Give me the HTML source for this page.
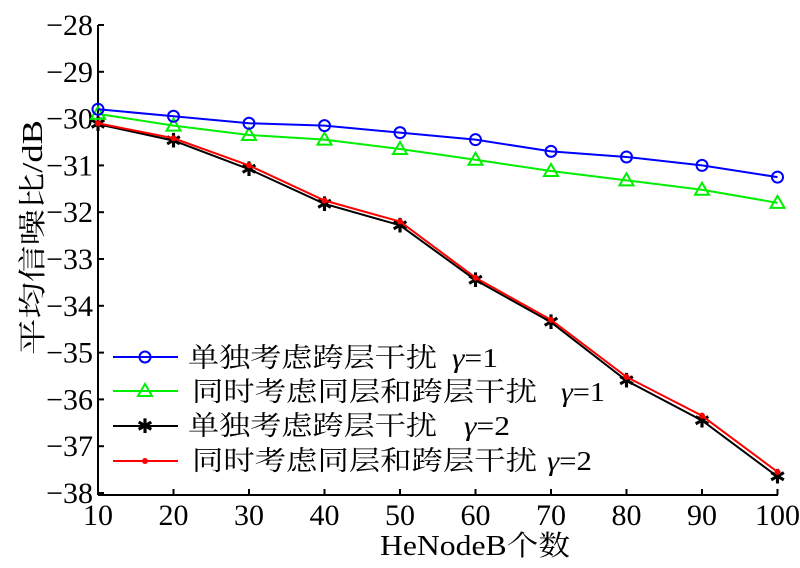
<!DOCTYPE html>
<html><head><meta charset="utf-8"><style>body{margin:0;background:#fff}
text{font-family:"Liberation Serif","Noto Serif CJK SC",serif}</style></head><body>
<svg width="800" height="563" xmlns="http://www.w3.org/2000/svg">
<rect width="800" height="563" fill="#fff"/>
<g stroke="#000" stroke-width="2" fill="none">
<line x1="98" y1="25" x2="98" y2="495"/>
<line x1="98" y1="495" x2="778" y2="495"/>
</g>
<g id="ax"></g>
<g id="series"></g>
<g font-size="28" fill="#000">
<text x="380" y="555" textLength="190" lengthAdjust="spacingAndGlyphs">HeNodeB个数</text>
<text transform="translate(42,355) rotate(-90)" textLength="235" lengthAdjust="spacingAndGlyphs">平均信噪比/dB</text>
</g>
<g font-size="27">
<line x1="113" y1="357" x2="178" y2="357" stroke="#00f" stroke-width="2"/><circle cx="145" cy="357" r="5.5" fill="none" stroke="#00f" stroke-width="2"/>
<text x="188" y="367" textLength="249" lengthAdjust="spacingAndGlyphs">单独考虑跨层干扰</text>
<text x="452" y="367" textLength="46" lengthAdjust="spacingAndGlyphs"><tspan font-style="italic">γ</tspan>=1</text>
<line x1="113" y1="391" x2="178" y2="391" stroke="#0e0" stroke-width="2"/><path d="M145 384 L152 396 L138 396 Z" fill="none" stroke="#0e0" stroke-width="2"/>
<text x="192" y="401" textLength="345" lengthAdjust="spacingAndGlyphs">同时考虑同层和跨层干扰</text>
<text x="561" y="401" textLength="44" lengthAdjust="spacingAndGlyphs"><tspan font-style="italic">γ</tspan>=1</text>
<line x1="113" y1="426" x2="178" y2="426" stroke="#000" stroke-width="2"/><text x="145" y="433" font-size="20" text-anchor="middle">✱</text>
<text x="188" y="435" textLength="249" lengthAdjust="spacingAndGlyphs">单独考虑跨层干扰</text>
<text x="464" y="435" textLength="46" lengthAdjust="spacingAndGlyphs"><tspan font-style="italic">γ</tspan>=2</text>
<line x1="113" y1="461" x2="178" y2="461" stroke="#f00" stroke-width="2"/><circle cx="145" cy="461" r="3" fill="#f00"/>
<text x="192" y="470" textLength="345" lengthAdjust="spacingAndGlyphs">同时考虑同层和跨层干扰</text>
<text x="547" y="470" textLength="45" lengthAdjust="spacingAndGlyphs"><tspan font-style="italic">γ</tspan>=2</text>
</g>
<script>
const X=v=>98+(v-10)*7.55, Y=v=>25+(-28-v)*46.8;
const ns="http://www.w3.org/2000/svg";
function el(p,t,a,txt){const e=document.createElementNS(ns,t);for(const k in a)e.setAttribute(k,a[k]);if(txt!=null)e.textContent=txt;p.appendChild(e);return e;}
const ax=document.getElementById('ax');
for(let v=-28;v>=-38;v--){const y=Y(v);el(ax,'line',{x1:98,y1:y,x2:104,y2:y,stroke:'#000','stroke-width':2});
el(ax,'text',{x:93,y:y+10,'text-anchor':'end','font-size':30},'−'+(-v));}
for(let v=10;v<=100;v+=10){const x=X(v);el(ax,'line',{x1:x,y1:495,x2:x,y2:489,stroke:'#000','stroke-width':2});
el(ax,'text',{x:x,y:525,'text-anchor':'middle','font-size':30},''+v);}
const xs=[10,20,30,40,50,60,70,80,90,100];
const S=[
{c:'#000',m:'star',d:[-30.12,-30.47,-31.08,-31.82,-32.28,-33.45,-34.35,-35.6,-36.45,-37.65]},
{c:'#f00',m:'dot',d:[-30.1,-30.42,-31.0,-31.75,-32.2,-33.4,-34.3,-35.52,-36.35,-37.55]},
{c:'#0e0',m:'tri',d:[-29.9,-30.15,-30.35,-30.45,-30.65,-30.88,-31.12,-31.32,-31.52,-31.8]},
{c:'#00f',m:'circ',d:[-29.8,-29.95,-30.1,-30.15,-30.3,-30.45,-30.7,-30.82,-31.0,-31.25]}];
const g=document.getElementById('series');
S.forEach(s=>{el(g,'polyline',{points:xs.map((x,i)=>X(x)+','+Y(s.d[i])).join(' '),fill:'none',stroke:s.c,'stroke-width':2});
xs.forEach((x,i)=>{const px=X(x),py=Y(s.d[i]);
if(s.m=='circ')el(g,'circle',{cx:px,cy:py,r:5.5,fill:'none',stroke:s.c,'stroke-width':2});
if(s.m=='dot')el(g,'circle',{cx:px,cy:py,r:3,fill:s.c});
if(s.m=='tri')el(g,'path',{d:`M${px} ${py-7}L${px+7} ${py+5}L${px-7} ${py+5}Z`,fill:'none',stroke:s.c,'stroke-width':2});
if(s.m=='star')el(g,'text',{x:px,y:py+7,'text-anchor':'middle','font-size':20,fill:'#000'},'✱');});});
</script>
</svg>
</body></html>
